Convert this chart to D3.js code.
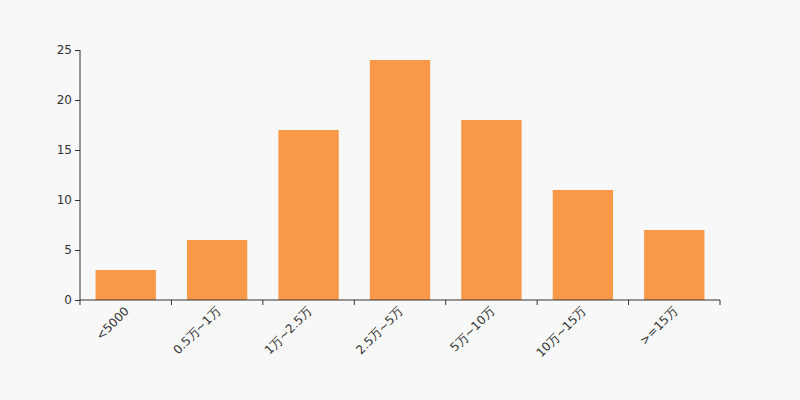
<!DOCTYPE html>
<html><head><meta charset="utf-8">
<script src="https://cdn.jsdelivr.net/npm/d3@7"></script>
<style>body{margin:0;background:#f8f8f8;}svg{display:block;}</style>
</head><body>
<svg id="c" width="800" height="400"></svg>
<script>
const categories = ["<5000","0.5万~1万","1万~2.5万","2.5万~5万","5万~10万","10万~15万",">=15万"];
const values = [3,6,17,24,18,11,7];
const yTicks = [0,5,10,15,20,25];

const svg = d3.select("#c");
svg.append("rect").attr("width",800).attr("height",400).attr("fill","#f8f8f8");
const m = {l:80, r:720, t:50, b:300};
const x = d3.scaleBand().domain(categories).range([m.l,m.r]).paddingInner(0.34).paddingOuter(0.17);
const xb = d3.scaleBand().domain(categories).range([m.l,m.r]);
const y = d3.scaleLinear().domain([0,25]).range([m.b,m.t]);
const font = "DejaVu Sans, sans-serif";

svg.append("g").selectAll("rect").data(values).join("rect")
  .attr("x",(d,i)=>x(categories[i])).attr("width",x.bandwidth())
  .attr("y",d=>y(d)).attr("height",d=>y(0)-y(d)).attr("fill","#f89848");

const ya = svg.append("g").attr("transform",`translate(${m.l},0)`)
  .call(d3.axisLeft(y).tickValues(yTicks).tickSize(5).tickPadding(3));
ya.selectAll("path,line").attr("stroke","#333");
ya.selectAll("text").attr("fill","#333").style("font-family",font).style("font-size","12px");
ya.select(".domain").attr("d",`M0,${m.t}V${m.b}`);

const xa = svg.append("g").attr("transform",`translate(0,${m.b})`)
  .call(d3.axisBottom(xb).tickSize(0).tickFormat(d=>d));
xa.select(".domain").attr("stroke","#333").attr("d",`M${m.l},0H${m.r}`);
xa.selectAll(".tick text").attr("fill","#333").style("font-family",font).style("font-size","12px")
  .attr("text-anchor","end").attr("dy","0.35em").attr("x",0).attr("y",0)
  .attr("transform","translate(1,9) rotate(-45)");
// boundary ticks
const bounds = categories.map(c=>xb(c)).concat([m.r]);
svg.append("g").selectAll("line").data(bounds).join("line")
  .attr("x1",d=>d).attr("x2",d=>d).attr("y1",m.b).attr("y2",m.b+5).attr("stroke","#333");
</script>
</body></html>
